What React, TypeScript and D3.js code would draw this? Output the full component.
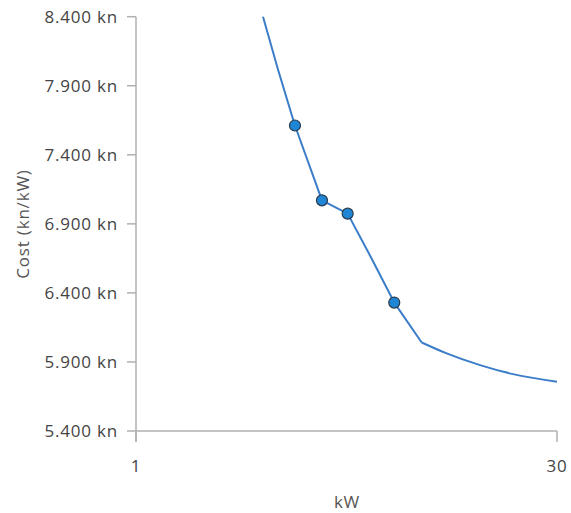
import React from "react";
import * as d3 from "d3";

const yTicks = [5400, 5900, 6400, 6900, 7400, 7900, 8400];
const xTicks = [1, 30];

// curve: steep part up to the bend, then the flat tail
const headX = [9.75, 10.78, 11.95, 13.81, 15.58, 17.2, 18.79, 20.68];
const headY = [8400, 8017, 7612, 7070, 6974, 6655, 6330, 6041];
const tailX = [20.68, 22.4, 24.7, 26.97, 30];
const tailY = [6041, 5962, 5877, 5812, 5757];

// markers
const pointX = [11.95, 13.81, 15.58, 18.79];
const pointY = [7612, 7070, 6974, 6330];

const W = 571;
const H = 513;
const left = 136;
const right = 557;
const top = 16.7;
const bottom = 431;

const fmt = (v: number) => d3.format(",")(v).replace(",", ".") + " kn";

export default function App() {
  const x = d3.scaleLinear().domain([1, 30]).range([left, right]);
  const y = d3.scaleLinear().domain([5400, 8400]).range([bottom, top]);
  const head = d3
    .line<number>()
    .x((_, i) => x(headX[i]))
    .y((d) => y(d))
    .curve(d3.curveLinear);
  const tail = d3
    .line<number>()
    .x((_, i) => x(tailX[i]))
    .y((d) => y(d))
    .curve(d3.curveMonotoneX);
  const font = "'Open Sans', 'Noto Sans', sans-serif";
  const axisColor = "#b0b0b0";
  const textColor = "#444";
  const fs = 17;
  const ls = 0.8;
  return (
    <svg
      width={W}
      height={H}
      style={{ position: "absolute", left: 0, top: 0 }}
      fontFamily={font}
    >
      <rect width={W} height={H} fill="#fff" />
      {/* y axis */}
      <line x1={left} x2={left} y1={top} y2={bottom + 11} stroke={axisColor} strokeWidth={1.5} />
      {yTicks.map((t) => (
        <g key={t}>
          <line x1={left - 9} x2={left} y1={y(t)} y2={y(t)} stroke={axisColor} strokeWidth={1.5} />
          <text
            x={118}
            y={y(t)}
            dy="0.35em"
            textAnchor="end"
            fontSize={fs}
            letterSpacing={ls}
            fill={textColor}
          >
            {fmt(t)}
          </text>
        </g>
      ))}
      {/* x axis */}
      <line x1={left} x2={right} y1={bottom} y2={bottom} stroke={axisColor} strokeWidth={1.5} />
      {xTicks.map((t) => (
        <g key={t}>
          <line x1={x(t)} x2={x(t)} y1={bottom} y2={bottom + 11} stroke={axisColor} strokeWidth={1.5} />
          <text x={x(t)} y={472} textAnchor="middle" fontSize={fs} letterSpacing={ls} fill={textColor}>
            {t}
          </text>
        </g>
      ))}
      <text x={347} y={508} textAnchor="middle" fontSize={fs} letterSpacing={ls} fill="#555">
        kW
      </text>
      <text
        transform={`translate(29,224) rotate(-90)`}
        textAnchor="middle"
        fontSize={fs}
        letterSpacing={ls}
        fill="#555"
      >
        Cost (kn/kW)
      </text>
      <path d={head(headY) || ""} fill="none" stroke="#3b7dc8" strokeWidth={2} strokeLinejoin="round" />
      <path d={tail(tailY) || ""} fill="none" stroke="#3b7dc8" strokeWidth={2} strokeLinejoin="round" />
      {pointX.map((px, i) => (
        <circle
          key={i}
          cx={x(px)}
          cy={y(pointY[i])}
          r={5.5}
          fill="#1f86d6"
          stroke="#2a3a4a"
          strokeWidth={1.2}
        />
      ))}
    </svg>
  );
}
